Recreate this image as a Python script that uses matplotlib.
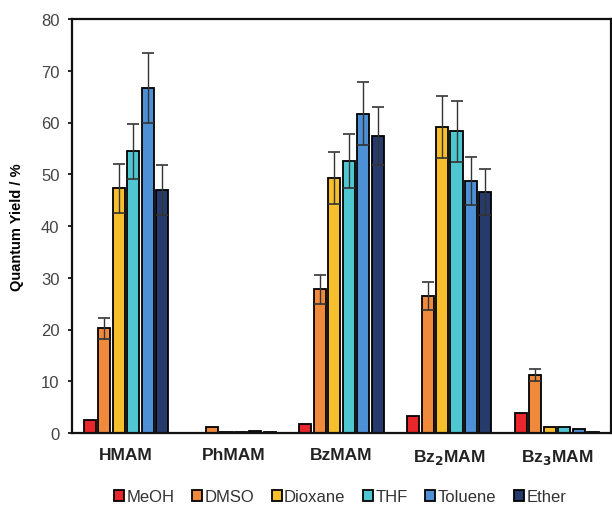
import matplotlib

matplotlib.use('Agg')

import matplotlib.pyplot as plt
import numpy as np

plt.rcParams['font.family'] = ['Liberation Sans', 'DejaVu Sans']

compounds = ['HMAM', 'PhMAM', 'BzMAM', 'Bz$_\\mathbf{2}$MAM', 'Bz$_\\mathbf{3}$MAM']
solvents = ['MeOH', 'DMSO', 'Dioxane', 'THF', 'Toluene', 'Ether']
colors = ['#e8262b', '#ef8a3d', '#f7bf2c', '#4fc7d1', '#4d90d5', '#263a6b']

# quantum yield per solvent, one value per compound
meoh = [2.5, 0.0, 1.7, 3.2, 3.9]
dmso = [20.2, 1.2, 27.8, 26.4, 11.2]
dioxane = [47.3, 0.2, 49.3, 59.2, 1.2]
thf = [54.4, 0.2, 52.6, 58.3, 1.2]
toluene = [66.7, 0.4, 61.7, 48.7, 0.8]
ether = [47.0, 0.2, 57.4, 46.6, 0.2]

meoh_err = [0, 0, 0, 0, 0]
dmso_err = [2.0, 0, 2.8, 2.7, 1.2]
dioxane_err = [4.7, 0, 5.0, 6.0, 0]
thf_err = [5.4, 0, 5.2, 5.9, 0]
toluene_err = [6.8, 0, 6.1, 4.7, 0]
ether_err = [4.8, 0, 5.6, 4.5, 0]

values = [meoh, dmso, dioxane, thf, toluene, ether]
errors = [meoh_err, dmso_err, dioxane_err, thf_err, toluene_err, ether_err]

fig = plt.figure(figsize=(6.12, 5.06), dpi=100)
ax = fig.add_axes([72 / 612, 72 / 506, 539 / 612, 414 / 506])

x = np.arange(len(compounds))
pitch = 0.134
width = 0.112
for i, (name, vals, errs, col) in enumerate(zip(solvents, values, errors, colors)):
    pos = x + (i - 2.5) * pitch
    ax.bar(pos, vals, width, color=col, edgecolor='black', linewidth=1.3,
           label=name, zorder=2)
    errs = np.array(errs)
    mask = errs > 0
    ax.errorbar(pos[mask], np.array(vals)[mask], yerr=errs[mask], fmt='none',
                ecolor='#333333', elinewidth=1.0, capsize=4.5, capthick=1.2,
                zorder=3)

ax.set_xlim(-0.5, len(compounds) - 0.5)
ax.set_ylim(0, 80)
ax.set_yticks(range(0, 81, 10))
ax.set_xticks(x)
ax.set_xticklabels(compounds, fontsize=12.5, fontweight='bold', color='#222222')
ax.tick_params(axis='x', length=0, pad=10)
ax.tick_params(axis='y', length=3, width=1.2, labelsize=12, labelcolor='#444444',
               pad=6)
ax.set_ylabel('Quantum Yield / %', fontsize=10.5, fontweight='bold', labelpad=12)
for side in ax.spines.values():
    side.set_linewidth(1.6)
    side.set_color('#111111')

leg = ax.legend(loc='upper center', bbox_to_anchor=(0.497, -0.12), ncol=6,
                frameon=False, fontsize=12, handlelength=0.6, handleheight=0.6,
                handletextpad=0.15, columnspacing=1.05, borderaxespad=0)
for t in leg.get_texts():
    t.set_color('#333333')

fig.savefig('out.png', dpi=100)
